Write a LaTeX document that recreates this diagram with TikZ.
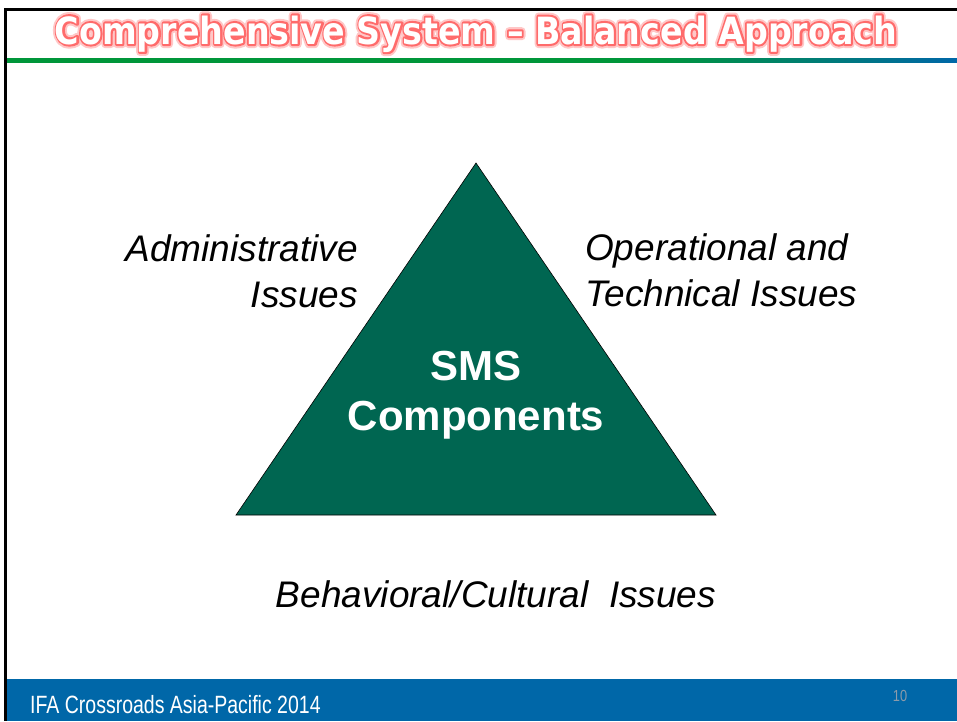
\documentclass[tikz,border=0pt]{standalone}
\usepackage{fontspec}
\setmainfont{Liberation Sans}
\newfontfamily\titlefont{DejaVu Sans}
\usetikzlibrary{positioning}

\definecolor{smsgreen}{HTML}{006651}
\definecolor{barblue}{HTML}{0067A8}
\definecolor{bargreen}{HTML}{00963A}
\definecolor{numgray}{HTML}{8C9BAA}

\pgfdeclarehorizontalshading{rulefade}{100bp}{color(0bp)=(bargreen); color(59bp)=(bargreen); color(75bp)=(barblue); color(100bp)=(barblue)}

% #1 = pdf text render mode, #2 = stroke width, #3 = stroke colour
\newcommand{\slidetitle}[3]{\resizebox{842pt}{28.5pt}{\titlefont\bfseries\special{pdf:literal #1 Tr #2 w 1 J 1 j #3 RG}Comprehensive System – Balanced Approach\special{pdf:literal 0 Tr}}}

\tikzset{
	issue/.style={font=\fontsize{37}{46}\selectfont\itshape, inner sep=0pt},
	core/.style={font=\fontsize{42}{50}\selectfont\bfseries, text=white, align=center, inner sep=0pt},
	headline/.style={anchor=base, inner sep=0pt}
}

\begin{document}
\begin{tikzpicture}[x=1pt, y=-1pt]
			%%%%% START %%%%%
			\useasboundingbox (0, 0) rectangle (957, 721);
			\fill[white] (0, 0) rectangle (957, 721);
			
			% frame, rule under the title, footer bar
			\fill[black] (5, 8) rectangle (957, 11);
			\fill[black] (4, 8) rectangle (7, 721);
			\shade[shading=rulefade] (7, 58) rectangle (957, 62);
			\fill[barblue] (7, 679) rectangle (957, 721);
			
			% title: pale glow, red edge, white letters
			\node[headline] (titleglow) at (476, 44) {\slidetitle{1}{2.2}{1 0.78 0.78}};
			\node[headline] (titleedge) at (476, 44) {\slidetitle{1}{1.1}{1 0.42 0.42}};
			\node[headline, text=white] (title) at (476, 44) {\slidetitle{0}{0}{1 1 1}};
			
			% triangle
			\coordinate (apex) at (476, 163);
			\coordinate (baseleft) at (236, 515);
			\coordinate (baseright) at (716, 515);
			\filldraw[fill=smsgreen, draw=black, line width=0.6pt] (apex) -- (baseright) -- (baseleft) -- cycle;
			\node[core] (sms) at (476, 395) {SMS\\Components};
			
			% issues round it
			\node[issue, anchor=east, align=right] (admin) at (358, 271) {Administrative\\Issues};
			\node[issue, anchor=west, align=left] (oper) at (585, 270) {Operational and\\Technical Issues};
			\node[issue] (behav) at (496, 594) {Behavioral/Cultural\ \ Issues};
			
			% footer
			\node[anchor=west, text=white, inner sep=0pt, font=\fontsize{25}{30}\selectfont] (event) at (30, 705) {\scalebox{0.78}[1]{IFA Crossroads Asia-Pacific 2014}};
			\node[text=numgray, inner sep=0pt, font=\fontsize{16}{18}\selectfont] (pagenum) at (900, 696) {\scalebox{0.8}[1]{10}};
			%%%%% END %%%%%
\end{tikzpicture}
\end{document}
